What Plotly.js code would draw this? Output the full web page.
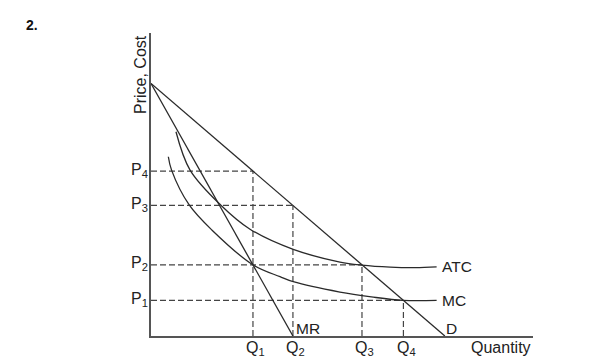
<!DOCTYPE html>
<html><head><meta charset="utf-8">
<script src="https://cdn.plot.ly/plotly-3.0.1.min.js"></script>
<style>html,body{margin:0;padding:0;background:#fff}</style>
</head><body><div id="chart" style="width:615px;height:362px"></div>
<script>
// ---- data ----
const qLabels = ["Q<sub>1</sub>", "Q<sub>2</sub>", "Q<sub>3</sub>", "Q<sub>4</sub>"];
const qValues = [34.7, 48.3, 71.8, 85.9];
const pLabels = ["P<sub>1</sub>", "P<sub>2</sub>", "P<sub>3</sub>", "P<sub>4</sub>"];
const pValues = [14.1, 28.2, 51.7, 65.3];
// dashed guides: Q index paired with P index
const guideQIdx = [0, 1, 2, 3];
const guidePIdx = [3, 2, 1, 0];

const demandQ = [0, 100];
const demandP = [100, 0];
const mrQ = [0, 48.3];
const mrP = [100, 0];
const atcQ = [8.5, 13.3, 23.7, 33.7, 48.4, 64.3, 71.7, 81.4, 90.0, 97.2];
const atcP = [80.9, 65.7, 51.9, 42.3, 34.3, 29.3, 28.1, 27.3, 27.1, 27.4];
const mcQ = [5.9, 7.0, 13.0, 20.7, 34.8, 43.9, 48.4, 64.3, 75.0, 85.8, 97.2];
const mcP = [71.0, 65.7, 51.9, 42.0, 28.1, 23.5, 21.5, 17.4, 15.5, 14.1, 14.1];

const curveLabels = ["ATC", "MC", "D", "MR"];

// ---- traces ----
const lineCol = '#2a2a2a';
const traces = [];
guideQIdx.forEach((qi, k) => {
  const q = qValues[qi], p = pValues[guidePIdx[k]];
  traces.push({x: [0, q], y: [p, p], mode: 'lines', line: {color: '#444', width: 1.2, dash: '6px,3px'}, hoverinfo: 'skip'});
  traces.push({x: [q, q], y: [0, p], mode: 'lines', line: {color: '#444', width: 1.2, dash: '6px,3px'}, hoverinfo: 'skip'});
});
traces.push({x: demandQ, y: demandP, mode: 'lines', line: {color: lineCol, width: 1.3}});
traces.push({x: mrQ, y: mrP, mode: 'lines', line: {color: lineCol, width: 1.3}});
traces.push({x: atcQ, y: atcP, mode: 'lines', line: {color: lineCol, width: 1.3, shape: 'spline', smoothing: 1}});
traces.push({x: mcQ, y: mcP, mode: 'lines', line: {color: lineCol, width: 1.3, shape: 'spline', smoothing: 1}});

// ---- annotations ----
const fam = 'Liberation Sans, Arial, sans-serif';
const fnt = {family: fam, size: 16, color: '#222'};
const fntC = {family: fam, size: 15.5, color: '#222'};
const ann = [];
qValues.forEach((q, i) => ann.push({x: q, y: 0, xref: 'x', yref: 'y', text: qLabels[i], showarrow: false,
  xanchor: 'center', yanchor: 'top', xshift: 3, yshift: -1, font: fnt}));
pValues.forEach((p, i) => ann.push({x: 0, y: p, xref: 'x', yref: 'y', text: pLabels[i], showarrow: false,
  xanchor: 'right', yanchor: 'middle', xshift: -1, yshift: 1, font: fnt}));
ann.push({x: atcQ[atcQ.length - 1], y: atcP[atcP.length - 1], text: curveLabels[0], showarrow: false, xanchor: 'left', yanchor: 'middle', xshift: 3, yshift: 0, font: fntC});
ann.push({x: mcQ[mcQ.length - 1], y: mcP[mcP.length - 1], text: curveLabels[1], showarrow: false, xanchor: 'left', yanchor: 'middle', xshift: 3, yshift: 0, font: fntC});
ann.push({x: demandQ[1], y: demandP[1], text: curveLabels[2], showarrow: false, xanchor: 'left', yanchor: 'bottom', xshift: -1, yshift: -3, font: fntC});
ann.push({x: mrQ[1], y: mrP[1], text: curveLabels[3], showarrow: false, xanchor: 'left', yanchor: 'bottom', xshift: 1, yshift: -3, font: fntC});
ann.push({x: 1, y: 0, xref: 'paper', yref: 'paper', text: 'Quantity', showarrow: false, xanchor: 'right', yanchor: 'top', yshift: -1, font: fnt});
ann.push({x: 0, y: 1, xref: 'paper', yref: 'paper', text: 'Price, Cost', showarrow: false, textangle: -90,
  xanchor: 'right', yanchor: 'top', xshift: 0, yshift: 0, font: {family: fam, size: 16, color: '#222'}});
ann.push({x: -0.3115, y: 1.028, xref: 'paper', yref: 'paper', text: '<b>2.</b>', showarrow: false, xanchor: 'center', yanchor: 'middle',
  font: {family: fam, size: 14, color: '#111'}});

const layout = {
  width: 615, height: 362,
  margin: {l: 151, r: 82, t: 33, b: 26},
  paper_bgcolor: '#fff', plot_bgcolor: '#fff',
  showlegend: false,
  xaxis: {range: [0, 130], showline: true, linecolor: '#555', linewidth: 1.8, showgrid: false, zeroline: false, showticklabels: false, ticks: '', fixedrange: true},
  yaxis: {range: [0, 120], showline: true, linecolor: '#555', linewidth: 1.8, showgrid: false, zeroline: false, showticklabels: false, ticks: '', fixedrange: true},
  annotations: ann
};
Plotly.newPlot('chart', traces, layout, {displayModeBar: false, staticPlot: true});
</script></body></html>
